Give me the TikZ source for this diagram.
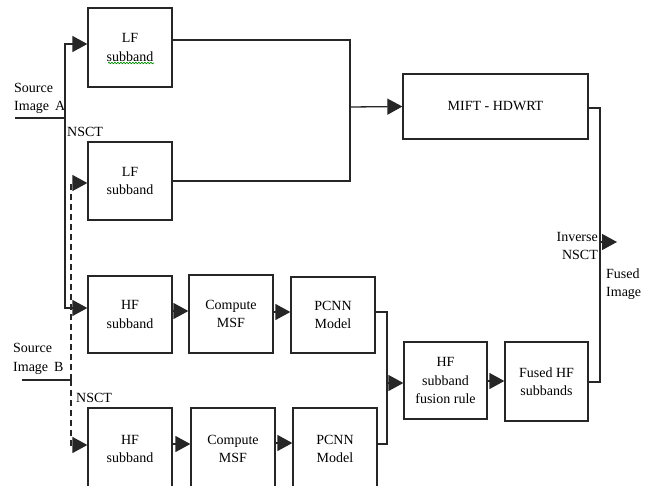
\documentclass[tikz,border=0pt]{standalone}
\usepackage{fontspec}
\setmainfont{Liberation Serif}
\usetikzlibrary{arrows.meta,decorations.pathmorphing}
\begin{document}
\begin{tikzpicture}[x=1pt,y=-1pt,
  blk/.style={draw=black!85,line width=1.3pt,minimum width=84pt,align=center,inner sep=1pt,
    font=\fontsize{14}{18.5}\selectfont},
  lbl/.style={inner sep=0pt,font=\fontsize{14}{18.5}\selectfont},
  wire/.style={draw=black!85,line width=1.3pt},
  arr/.style={wire,-{Triangle[length=15pt,width=16pt]}},
  darr/.style={arr,dashed,dash pattern=on 6pt off 4pt}]
\useasboundingbox (0,0) rectangle (655,485);
\clip (0,0) rectangle (655,485);
% boxes
\node[blk,minimum height=79pt] (lf1) at (130,47.5) {LF\\subband};
\node[blk,minimum height=78pt] (lf2) at (130,181) {LF\\subband};
\node[blk,minimum height=77pt] (hf1) at (130,314.5) {HF\\subband};
\node[blk,minimum height=82pt] (hf2) at (130,449) {HF\\subband};
\node[blk,minimum height=78pt] (msf1) at (231,314) {Compute\\MSF};
\node[blk,minimum height=76pt] (pcnn1) at (333,315) {PCNN\\Model};
\node[blk,minimum height=82pt] (msf2) at (233,449) {Compute\\MSF};
\node[blk,minimum height=82pt] (pcnn2) at (335,449) {PCNN\\Model};
\node[blk,minimum width=83pt,minimum height=77pt] (fuse) at (445.5,380.5) {HF\\subband\\fusion rule};
\node[blk,minimum width=83pt,minimum height=79pt] (fhf) at (546.5,381.5) {Fused HF\\subbands};
\node[blk,minimum width=185pt,minimum height=65pt] (mift) at (495.5,106.5) {MIFT - HDWRT};
% spell-check squiggle
\draw[green!55!black,line width=0.7pt,decorate,decoration={snake,amplitude=0.7pt,segment length=3pt}] (108,63) -- (154,63);
% labels
\node[lbl,anchor=west,align=left] (srcA) at (14,98.5) {Source\\Image\, A};
\node[lbl,anchor=west] (nsctA) at (67,132) {NSCT};
\node[lbl,anchor=west,align=left] (srcB) at (13,359) {Source\\Image\, B};
\node[lbl,anchor=west] (nsctB) at (76,398) {NSCT};
\node[lbl,anchor=east,align=right] (inv) at (598,246) {Inverse\\NSCT};
\node[lbl,anchor=west,align=left] (fused) at (606,284) {Fused\\Image};
% coordinates
\coordinate (aL) at (15,118);
\coordinate (aJ) at (65,118);
\coordinate (bL) at (22,380);
\coordinate (bJ) at (71,380);
\coordinate (lfJ) at (350,107);
\coordinate (pcJ) at (387,383);
\coordinate (outJ) at (600,242);
\coordinate (out) at (617,242);
% source A
\draw[wire] (aL) -- (aJ);
\draw[arr] (aJ) |- (lf1.west |- 0,44);
\draw[arr] (aJ) |- (hf1.west |- 0,308);
% source B
\draw[wire] (bL) -- (bJ);
\draw[darr] (bJ) |- (lf2.west |- 0,183);
\draw[darr] (bJ) |- (hf2.west |- 0,445);
% LF branch
\draw[wire] (lf1.east |- 0,40) -| (lfJ) |- (lf2.east |- 0,181);
\draw[arr] (lfJ) -- (mift.west);
% HF chains
\draw[arr] (hf1.east |- 0,311) -- (msf1.west |- 0,311);
\draw[arr] (msf1.east |- 0,312) -- (pcnn1.west |- 0,312);
\draw[arr] (hf2.east |- 0,444) -- (msf2.west |- 0,444);
\draw[arr] (msf2.east |- 0,443) -- (pcnn2.west |- 0,443);
\draw[wire] (pcnn1.east |- 0,312) -| (pcJ) |- (pcnn2.east |- 0,444);
\draw[arr] (pcJ) -- (fuse.west |- pcJ);
\draw[arr] (fuse.east |- 0,381) -- (fhf.west |- 0,381);
% output
\draw[wire] (mift.east |- 0,108) -| (outJ) |- (fhf.east |- 0,382);
\draw[arr] (outJ) -- (out);
\end{tikzpicture}
\end{document}
